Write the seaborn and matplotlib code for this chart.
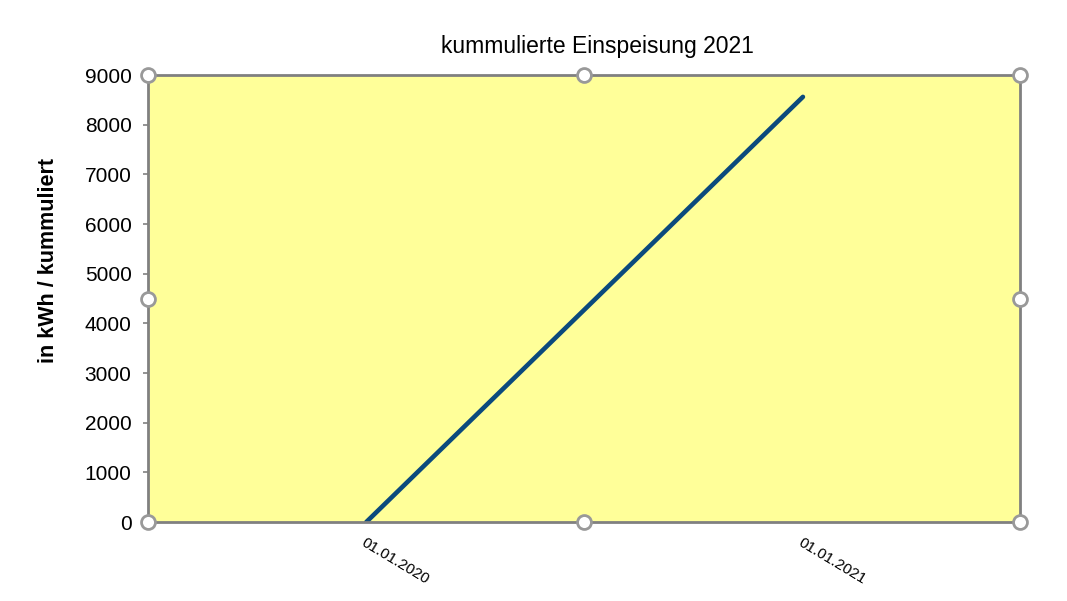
import seaborn as sns
import matplotlib.pyplot as plt
import pandas as pd

datum = ['2020-01-01', '2021-01-01']
einspeisung = [0, 8560]
tick_labels = ['01.01.2020', '01.01.2021']

sns.set_theme(style="white")
plt.rcParams['font.family'] = ['Liberation Sans', 'DejaVu Sans']
plt.rcParams['text.color'] = 'black'
plt.rcParams['xtick.color'] = 'black'
plt.rcParams['ytick.color'] = 'black'
plt.rcParams['axes.labelcolor'] = 'black'

df = pd.DataFrame({'Datum': pd.to_datetime(datum), 'kWh': einspeisung})

fig = plt.figure(figsize=(10.67, 6.01), dpi=100)
ax = fig.add_axes([0.1387, 0.1314, 0.956 - 0.1387, 0.8752 - 0.1314])
ax.set_facecolor('#FFFF99')

sns.lineplot(data=df, x='Datum', y='kWh', color='#0B4A7D', linewidth=3.3, ax=ax)

ax.set_xlim(pd.Timestamp('2019-07-02'), pd.Timestamp('2021-07-02'))
ax.set_ylim(0, 9000)
ax.set_yticks(range(0, 9001, 1000))
ax.set_xticks(pd.to_datetime(datum))
ax.set_xticklabels(tick_labels, rotation=-31, ha='left', rotation_mode='anchor', fontsize=11)
ax.tick_params(axis='y', labelsize=15, length=3.8, width=1.2, color='#808080',
               direction='out', left=True, pad=8)
ax.tick_params(axis='x', length=0, pad=10)

for s in ax.spines.values():
    s.set_color('#808080')
    s.set_linewidth(2)

ax.set_xlabel('')
ax.set_ylabel('in kWh / kummuliert', fontsize=15.5, fontweight='bold')
ax.yaxis.set_label_coords(-0.102, 0.584)
ax.set_title('kummulierte Einspeisung 2021', fontsize=16.5, pad=16, x=0.515)

# Auswahl-Griffe am Diagrammrand
griffe_x = [0, 0.5, 1, 0, 1, 0, 0.5, 1]
griffe_y = [1, 1, 1, 0.5, 0.5, 0, 0, 0]
ax.plot(griffe_x, griffe_y, 'o', transform=ax.transAxes, clip_on=False,
        markersize=10, markerfacecolor='white', markeredgecolor='#999999',
        markeredgewidth=2, zorder=10)

fig.savefig('out.png', dpi=100)
